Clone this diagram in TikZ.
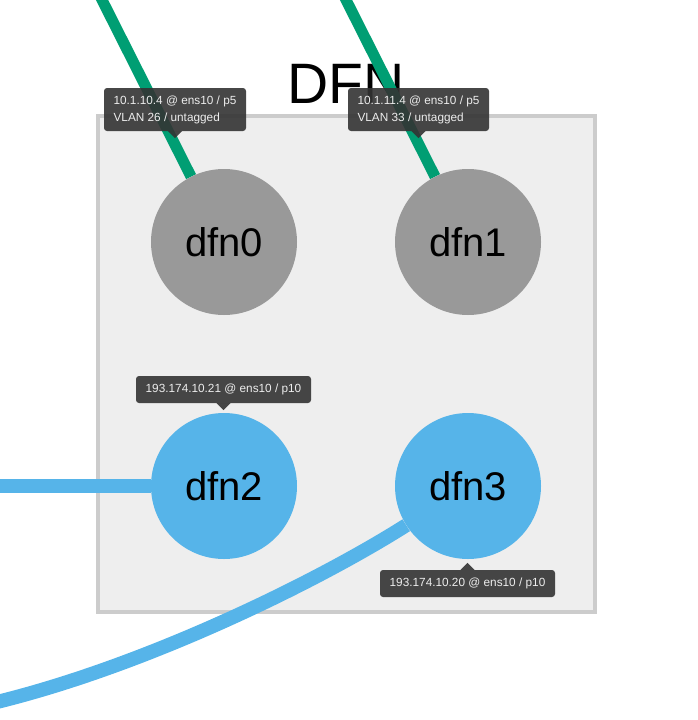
\documentclass[tikz,border=0pt]{standalone}
\usepackage{fontspec}
\setmainfont{Liberation Sans}
\usepackage{xcolor}
\usepackage{tikz}
\usetikzlibrary{backgrounds}

\definecolor{linkgreen}{HTML}{009E73}
\definecolor{linkblue}{HTML}{56B4E9}
\definecolor{hostgray}{HTML}{999999}
\definecolor{groupfill}{HTML}{EEEEEE}
\definecolor{groupline}{HTML}{CCCCCC}
\definecolor{tipfill}{HTML}{333333}

\tikzset{
	host/.style={circle, minimum size=146pt, inner sep=0pt, font=\fontsize{40}{40}\selectfont},
	tip/.style={fill=tipfill, fill opacity=0.9, text opacity=1, text=white!93!black, rounded corners=3pt, inner sep=0pt, align=left, font=\fontsize{11.8}{17}\selectfont},
	tipend/.style={fill=tipfill, fill opacity=0.9}
}

\begin{document}
\begin{tikzpicture}[x=1pt, y=-1pt]
			\useasboundingbox (0,0) rectangle (697,720);
			\clip (0,0) rectangle (697,720);
			\node[host, fill=hostgray] (dfn0) at (224,242) {dfn0};
			\node[host, fill=hostgray] (dfn1) at (468,242) {dfn1};
			\node[host, fill=linkblue] (dfn2) at (224,486) {dfn2};
			\node[host, fill=linkblue] (dfn3) at (468,486) {dfn3};
			\coordinate (up0) at (92,-20);
			\coordinate (up1) at (336,-20);
			\coordinate (left2) at (-20,486);
			\coordinate (left3) at (-20,706);
			\begin{pgfonlayer}{background}
				\draw [groupline, line width=4pt, fill=groupfill] (98,116) rectangle (595,612);
				\node[anchor=base, font=\fontsize{57}{57}\selectfont] (title) at (346,103) {DFN};
				\draw [linkgreen, line width=11pt] (up0) -- (dfn0);
				\draw [linkgreen, line width=11pt] (up1) -- (dfn1);
				\draw [linkblue, line width=14pt] (left2) -- (dfn2);
				\draw [linkblue, line width=14pt] (left3) .. controls (140,670) and (320,580) .. (dfn3);
			\end{pgfonlayer}
			\node[tip, minimum width=142pt, minimum height=43pt] (tip0) at (175,109.5) {10.1.10.4 @ ens10 / p5\\VLAN 26 / untagged};
			\node[tip, minimum width=141pt, minimum height=43pt] (tip1) at (418.5,109.5) {10.1.11.4 @ ens10 / p5\\VLAN 33 / untagged};
			\node[tip, minimum width=175pt, minimum height=27pt] (tip2) at (223.5,389.5) {193.174.10.21 @ ens10 / p10};
			\node[tip, minimum width=175pt, minimum height=27pt] (tip3) at (467.5,583.5) {193.174.10.20 @ ens10 / p10};
			\fill [tipend] (tip0.south) ++(-7,0) -- ++(14,0) -- ++(-7,7) -- cycle;
			\fill [tipend] (tip1.south) ++(-7,0) -- ++(14,0) -- ++(-7,7) -- cycle;
			\fill [tipend] (tip2.south) ++(-7,0) -- ++(14,0) -- ++(-7,7) -- cycle;
			\fill [tipend] (tip3.north) ++(-7,0) -- ++(14,0) -- ++(-7,-7) -- cycle;
		\end{tikzpicture}
\end{document}
